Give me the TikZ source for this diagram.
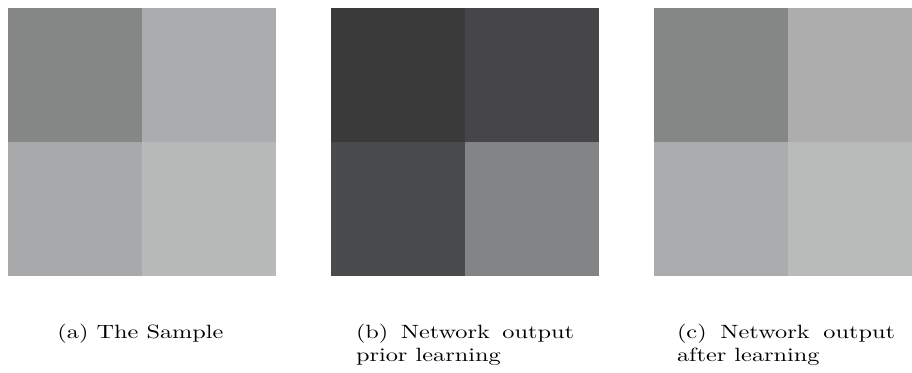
\documentclass[tikz,border=0pt]{standalone}
\usepackage{graphicx}
\usepackage{tikz}
\usetikzlibrary{positioning}

\definecolor{saTL}{HTML}{858786}
\definecolor{saTR}{HTML}{ABACAD}
\definecolor{saBL}{HTML}{A8A9AA}
\definecolor{saBR}{HTML}{B8BAB9}
\definecolor{prTL}{HTML}{3A3A3A}
\definecolor{prTR}{HTML}{464648}
\definecolor{prBL}{HTML}{4A4B4D}
\definecolor{prBR}{HTML}{838486}
\definecolor{afTL}{HTML}{858786}
\definecolor{afTR}{HTML}{ACADAC}
\definecolor{afBL}{HTML}{ABACAE}
\definecolor{afBR}{HTML}{B9BBBA}

% captions are a little squashed in height
\newcommand{\squashcap}[1]{\scalebox{1}[0.79]{#1}}
\newcommand{\twolinecap}[1]{\squashcap{\parbox{89.7pt}{#1}}}

\begin{document}
\begin{tikzpicture}[x=0.4115pt, y=-0.4115pt,
    cell/.style = {minimum size=55.14pt, inner sep=0, outer sep=0, anchor=north west},
    subcap/.style = {inner sep=0, anchor=north}]
    \useasboundingbox (0,0) rectangle (912,372);

    % the three 2x2 outputs
    \foreach \name/\px/\ca/\cb/\cc/\cd in {sample/8.3/saTL/saTR/saBL/saBR,
                                          prior/331.5/prTL/prTR/prBL/prBR,
                                          after/654.3/afTL/afTR/afBL/afBR}{
        \node[cell, fill=\ca] (\name-tl) at (\px,8.3) {};
        \node[cell, fill=\cb] (\name-tr) at (\px+134,8.3) {};
        \node[cell, fill=\cc] (\name-bl) at (\px,142.3) {};
        \node[cell, fill=\cd] (\name-br) at (\px+134,142.3) {};
    }

    % captions
    \node[subcap] (cap-a) at (140.5,323.5) {\squashcap{(a) The Sample}};
    \node[subcap] (cap-b) at (465,323.5) {\twolinecap{(b) Network output\linebreak prior learning}};
    \node[subcap] (cap-c) at (786,323.5) {\twolinecap{(c) Network output\linebreak after learning}};
\end{tikzpicture}
\end{document}
